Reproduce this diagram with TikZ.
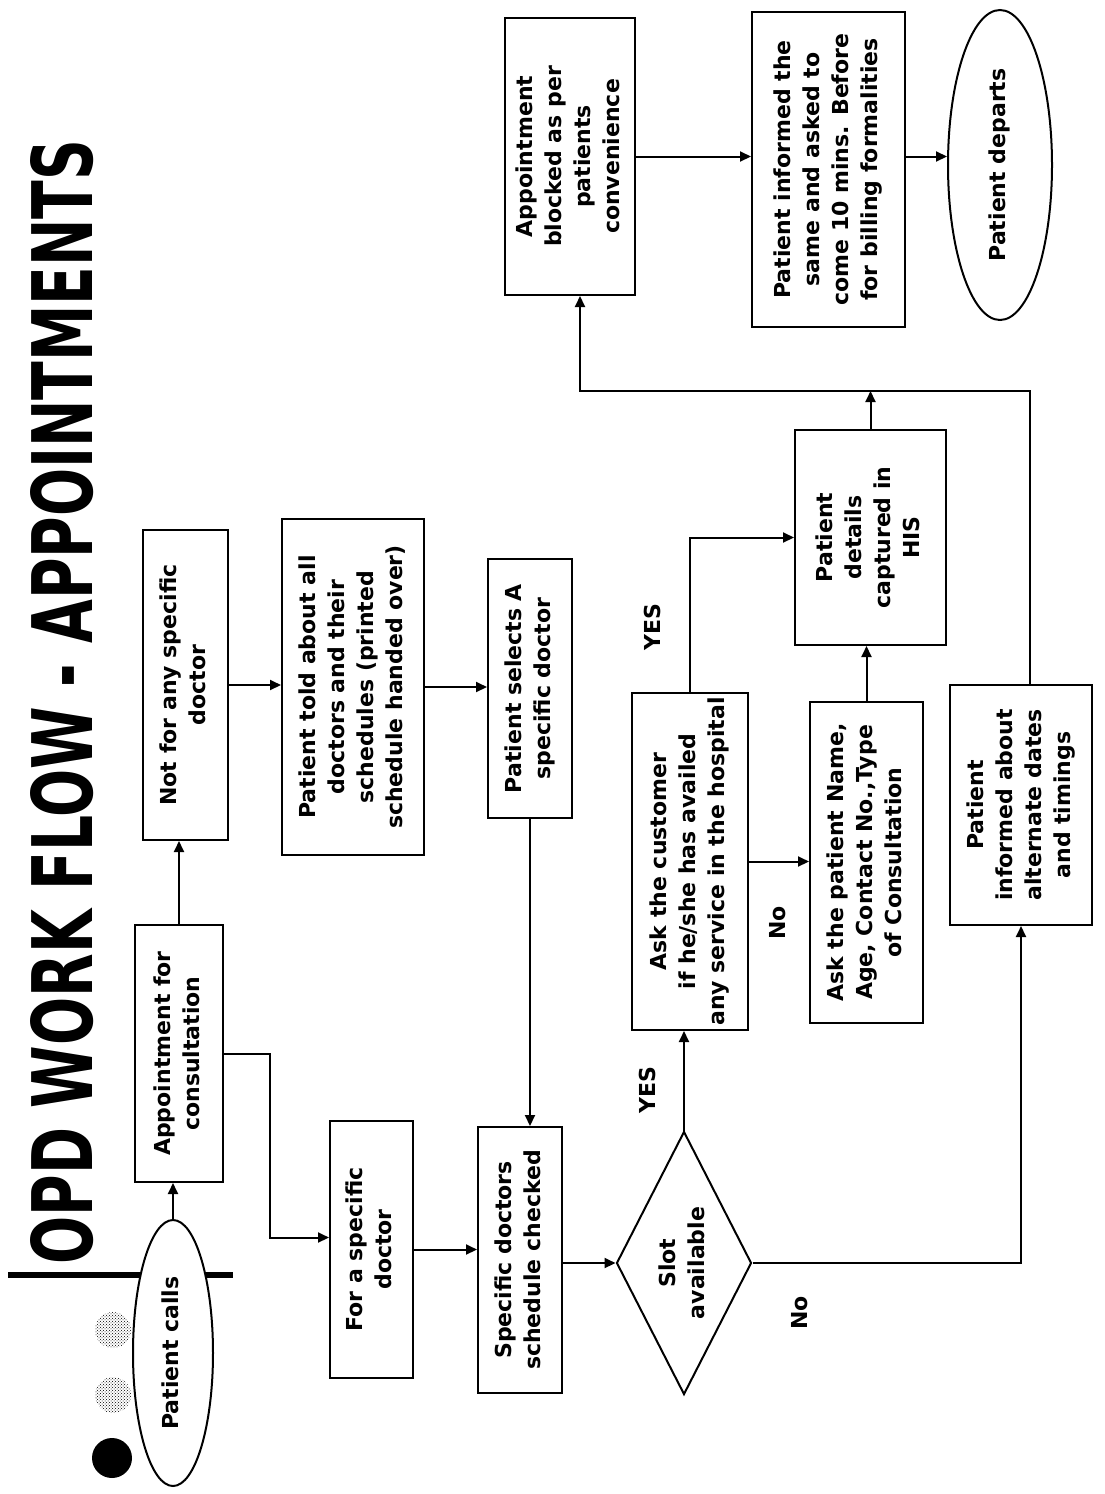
\documentclass[tikz,border=0pt]{standalone}
\usepackage{fontspec}
\setmainfont{DejaVu Sans}
\usepackage{graphicx}
\usetikzlibrary{arrows.meta,shapes.geometric,patterns}
% text set sideways, reading upwards
\newcommand{\vtext}[1]{\rotatebox{90}{\begin{tabular}{@{}c@{}}#1\end{tabular}}}
\begin{document}
\begin{tikzpicture}[x=1pt,y=-1pt,
  every node/.style={font=\bfseries\fontsize{22pt}{29pt}\selectfont, inner sep=0pt},
  box/.style={draw, line width=2pt, fill=white, rectangle},
  oval/.style={draw, line width=2pt, fill=white, ellipse},
  decision/.style={draw, line width=2pt, fill=white, diamond},
  arr/.style={line width=2pt, -{Triangle[length=11pt,width=10pt]}},
  lbl/.style={rotate=90}]
\useasboundingbox (0,0) rectangle (1104,1494);
\fill[white] (0,0) rectangle (1104,1494);

% title
\node[rotate=90] (title) at (62,702) {\resizebox{1125pt}{62pt}{OPD WORK FLOW - APPOINTMENTS}};

% logo: bar and dots
\draw[line width=6pt] (8,1275) -- (233,1275);
\path[pattern=crosshatch dots] (113,1330) circle (18pt);
\path[pattern=crosshatch dots] (113,1395) circle (18pt);
\fill (112,1458) circle (20pt);

% nodes
\node[oval, minimum width=80pt, minimum height=266pt] (calls) at (173,1353) {\vtext{Patient calls}};
\node[box, minimum width=88pt, minimum height=257pt] (appt) at (179,1053.5) {\vtext{Appointment for\\consultation}};
\node[box, minimum width=85pt, minimum height=310pt] (notfor) at (185.5,685) {\vtext{Not for any specific\\doctor}};
\node[box, minimum width=83pt, minimum height=257pt] (forspec) at (371.5,1249.5) {\vtext{For a specific\\doctor}};
\node[box, minimum width=142pt, minimum height=336pt] (told) at (353,687) {\vtext{Patient told about all\\doctors and their\\schedules (printed\\schedule handed over)}};
\node[box, minimum width=84pt, minimum height=259pt] (selects) at (530,688.5) {\vtext{Patient selects A\\specific doctor}};
\node[box, minimum width=84pt, minimum height=266pt] (checked) at (520,1260) {\vtext{Specific doctors\\schedule checked}};
\node[decision, minimum width=135pt, minimum height=263pt] (slot) at (684,1263) {};
\node (slottxt) at (slot) {\vtext{Slot\\available}};
\node[box, minimum width=116pt, minimum height=337pt] (askcust) at (690,861.5) {\vtext{Ask the customer\\if he/she has availed\\any service in the hospital}};
\node[box, minimum width=113pt, minimum height=321pt] (askpat) at (866.5,862.5) {\vtext{Ask the patient Name,\\Age, Contact No.,Type\\of Consultation}};
\node[box, minimum width=151pt, minimum height=215pt] (details) at (870.5,537.5) {\vtext{Patient\\details\\captured in\\HIS}};
\node[box, minimum width=142pt, minimum height=240pt] (alt) at (1021,805) {\vtext{Patient\\informed about\\alternate dates\\and timings}};
\node[box, minimum width=130pt, minimum height=277pt] (blocked) at (570,156.5) {\vtext{Appointment\\blocked as per\\patients\\convenience}};
\node[box, minimum width=153pt, minimum height=315pt] (same) at (828.5,169.5) {\vtext{Patient informed the\\same and asked to\\come 10 mins. Before\\for billing formalities}};
\node[oval, minimum width=104pt, minimum height=310pt] (departs) at (1000,165) {\vtext{Patient departs}};

% branch labels
\node[lbl] (yes1) at (647,1090) {YES};
\node[lbl] (no1) at (800,1313) {No};
\node[lbl] (yes2) at (652,627) {YES};
\node[lbl] (no2) at (778,923) {No};

% junction points
\coordinate (j1) at (270,1054);
\coordinate (j2) at (875,391);

% connectors
\draw[arr] (calls.north) -- (calls.north |- appt.south);
\draw[arr] (appt.north) -- (appt.north |- notfor.south);
\draw[arr] (appt.east |- j1) -- (j1) |- ([yshift=12pt]forspec.west);
\draw[arr] (notfor.east) -- (notfor.east -| told.west);
\draw[arr] (told.east) -- (told.east -| selects.west);
\draw[arr] (selects.south) -- (selects.south |- checked.north);
\draw[arr] (forspec.east) -- (forspec.east -| checked.west);
\draw[arr] (checked.east |- slot.west) -- (slot.west);
\draw[arr] (slot.north) -- (slot.north |- askcust.south);
\draw[arr] (slot.east) -| (alt.south);
\draw[arr] (askcust.north) |- (details.west);
\draw[arr] (askcust.east) -- (askcust.east -| askpat.west);
\draw[arr] (askpat.north) -- (askpat.north |- details.south);
\draw[arr] (details.north) -- (details.north |- j2);
\draw[arr] ([xshift=9pt]alt.north) -- ([xshift=9pt]alt.north |- j2) -| ([xshift=10pt]blocked.south);
\draw[arr] (blocked.east) -- (blocked.east -| same.west);
\draw[arr] (same.east |- blocked.east) -- (departs.west |- blocked.east);
\end{tikzpicture}
\end{document}
